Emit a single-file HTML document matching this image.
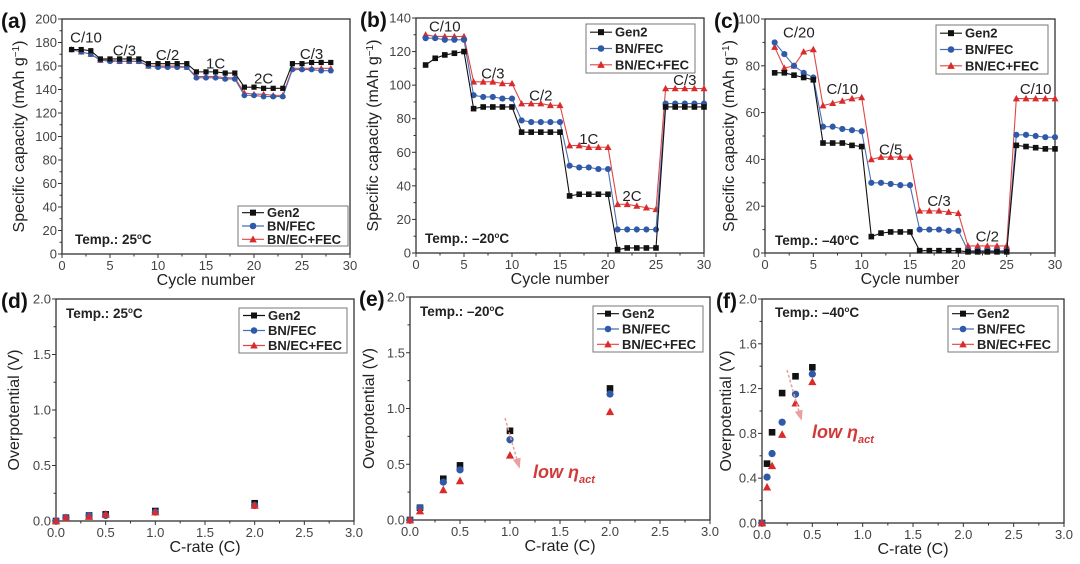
<!DOCTYPE html>
<html><head><meta charset="utf-8">
<style>
html,body{margin:0;padding:0;background:#fff;}
svg{display:block;font-family:"Liberation Sans",Arial,sans-serif;}
</style></head>
<body>
<svg id="fig" width="1080" height="564" viewBox="0 0 1080 564" xmlns="http://www.w3.org/2000/svg"></svg>
<script>
// ---------- data ----------
const cyclesA = Array.from({length:28},(_,i)=>i+1);
const cycles30 = Array.from({length:30},(_,i)=>i+1);
const aGen2 = [174,174,173,166,166,166,166,166,162,162,162,162,162,155,155,155,154,154,142,142,141,141,141,162,162,163,163,163];
const aFEC  = [174,172,170,165,164,164,164,164,160,159,159,159,159,150,150,150,149,149,135,135,134,134,134,157,157,157,156,156];
const aEC   = [174,172,170,165,165,164,164,164,160,160,160,160,159,151,151,151,150,150,137,136,136,135,135,158,158,158,158,158];
const bGen2 = [112,116,118,119,120,86,87,87,87,87,72,72,72,72,72,34,35,35,35,35,2,3,3,3,3,87,87,87,87,87];
const bFEC  = [128,128,127,127,127,94,93,93,92,92,79,78,78,78,78,52,51,51,50,50,14,14,14,14,14,89,89,89,89,89];
const bEC   = [130,129,129,129,129,102,102,102,101,101,89,89,89,88,88,64,64,63,63,63,29,29,28,27,26,98,98,98,98,98];
const cGen2 = [77,77,76,75,74,47,47,47,46,45.5,7,8.5,9,9,9,1,1,1,1,1,0.5,0.5,0.5,0.5,0.5,46,45.5,45,44.5,44.5];
const cFEC  = [90,85,80,77,75,54,54,53,52.5,52,30,30,29.5,29,29,10,10,10,9.5,9.5,1,1,1,1,1,50.5,50.5,50,49.5,49.5];
const cEC   = [88,79,80,86,87,63,64,65,66,66.5,40,41,41,41,41,18,18,18,17.5,17,3,3,3,3,3,66,66,66,66,66];
const rateDE = [0,0.1,0.333,0.5,1,2];
const dGen2 = [0,0.03,0.05,0.06,0.09,0.16];
const dFEC  = [0,0.03,0.05,0.05,0.08,0.14];
const dEC   = [0,0.03,0.04,0.06,0.08,0.14];
const eGen2 = [0,0.11,0.37,0.49,0.80,1.18];
const eFEC  = [0,0.11,0.34,0.45,0.72,1.13];
const eEC   = [0,0.08,0.27,0.35,0.58,0.97];
const rateF = [0,0.05,0.1,0.2,0.333,0.5];
const fGen2 = [0,0.53,0.81,1.16,1.31,1.39];
const fFEC  = [0,0.41,0.62,0.90,1.15,1.33];
const fEC   = [0,0.32,0.51,0.79,1.07,1.26];
const ticksCycle = [0,5,10,15,20,25,30];
const ticksA = [0,20,40,60,80,100,120,140,160,180,200];
const ticksB = [0,20,40,60,80,100,120,140];
const ticksC = [0,20,40,60,80,100];
const ticksRate = [0,0.5,1.0,1.5,2.0,2.5,3.0];
const ticksV = [0,0.5,1.0,1.5,2.0];
const ticksVF = [0,0.4,0.8,1.2,1.6,2.0];
const seriesNames = ["Gen2","BN/FEC","BN/EC+FEC"];
const labelsA = [["C/10",2.5,180],["C/3",6.5,169],["C/2",11,165],["1C",16,158],["2C",21,145],["C/3",26,166]];
const labelsB = [["C/10",3,132],["C/3",8,104],["C/2",13,91],["1C",18,65],["2C",22.5,31],["C/3",28,100]];
const labelsC = [["C/20",3.5,92],["C/10",8,68],["C/5",13,42],["C/3",18,20],["C/2",23,5],["C/10",28,68]];

const COLORS = ["#111111","#2f5aa8","#d92b2b"];
const LINECOL = ["#111111","#4a6fb5","#e04545"];
const NS = "http://www.w3.org/2000/svg";
const svg = document.getElementById('fig');
function el(tag, attrs, parent){
  const e = document.createElementNS(NS, tag);
  for (const k in attrs) e.setAttribute(k, attrs[k]);
  (parent||svg).appendChild(e);
  return e;
}
function marker(g, type, x, y, c, s){
  let m;
  if (type===0) m = el('rect',{x:x-s,y:y-s,width:2*s,height:2*s,fill:c},g);
  else if (type===1) m = el('circle',{cx:x,cy:y,r:s*1.1,fill:c},g);
  else m = el('polygon',{points:`${x},${y-s*1.3} ${x-s*1.25},${y+s} ${x+s*1.25},${y+s}`,fill:c},g);
  return m;
}
function panel(o){
  const g = el('g',{});
  
  
  const {L,T,R,B} = o;
  const sx = v => L + (v - o.xmin)/(o.xmax - o.xmin)*(R-L);
  const sy = v => B - (v - o.ymin)/(o.ymax - o.ymin)*(B-T);
  const frame = el('rect',{x:L,y:T,width:R-L,height:B-T,fill:'none',stroke:'#333',"stroke-width":1.3},g);
  
  
  o.xt.forEach((t,i)=>{
    const x = sx(t);
    el('line',{x1:x,y1:B,x2:x,y2:B+4,stroke:'#333'},g);
    if (i<o.xt.length-1){ const xm = sx((t+o.xt[i+1])/2); el('line',{x1:xm,y1:B,x2:xm,y2:B+2.5,stroke:'#333'},g);}
    const tx = el('text',{x:x,y:B+16,"font-size":13,fill:'#444',"text-anchor":'middle'},g);
    tx.textContent = o.xfmt? t.toFixed(1): t;
    
    
  });
  o.yt.forEach((t,i)=>{
    const y = sy(t);
    el('line',{x1:L,y1:y,x2:L-4,y2:y,stroke:'#333'},g);
    if (i<o.yt.length-1){ const ym = sy((t+o.yt[i+1])/2); el('line',{x1:L,y1:ym,x2:L-2.5,y2:ym,stroke:'#333'},g);}
    const ty = el('text',{x:L-5,y:y+4.5,"font-size":13,fill:'#444',"text-anchor":'end'},g);
    ty.textContent = o.yfmt? t.toFixed(1): t;
    
    
  });
  const xtl = el('text',{x:(L+R)/2,y:B+31,"font-size":16,fill:'#222',"text-anchor":'middle'},g);
  xtl.textContent = o.xlabel;
  
  
  const ytl = el('text',{x:0,y:0,"font-size":16,fill:'#222',"text-anchor":'middle',transform:`translate(${o.ytx},${(T+B)/2}) rotate(-90)`},g);
  if (o.id==='a'||o.id==='b'||o.id==='c'){
    ytl.innerHTML = 'Specific capacity (mAh g<tspan dy="-5" font-size="10">−1</tspan><tspan dy="5">)</tspan>';
  } else ytl.textContent = 'Overpotential (V)';
  
  
  const pl = el('text',{x:o.plx,y:T+9,"font-size":21,"font-weight":'bold',fill:'#111'},g);
  pl.textContent = '('+o.id+')';
  
  
  const order = o.lines ? [2,1,0] : [0,1,2];
  order.forEach(si=>{
    const ys = o.series[si];
    const sg = el('g',{},g);
    
    
    if (o.lines){
      const pts = ys.map((v,i)=>sx(o.x[i])+','+sy(v)).join(' ');
      el('polyline',{points:pts,fill:'none',stroke:LINECOL[si],"stroke-width":1.1},sg);
    }
    ys.forEach((v,i)=>{
      const m = marker(sg, si, sx(o.x[i]), sy(v), COLORS[si], o.ms);
      
      
    });
  });
  if (o.rateLabels) o.rateLabels.forEach(r=>{
    const t = el('text',{x:sx(r[1]),y:sy(r[2]),"font-size":15,fill:'#222',"text-anchor":'middle'},g);
    t.textContent = r[0];
    
    
  });
  const tp = el('text',{x:o.tempX,y:o.tempY,"font-size":13.5,"font-weight":'bold',fill:'#222'},g);
  tp.innerHTML = 'Temp.: '+o.temp+'<tspan dy="-5" font-size="8">o</tspan><tspan dy="5">C</tspan>';
  
  
  const lg = el('g',{},g);
  
  
  const [lx,ly,lw,lh] = o.leg;
  el('rect',{x:lx,y:ly,width:lw,height:lh,fill:'#fff',stroke:'#777',"stroke-width":1},lg);
  seriesNames.forEach((n,i)=>{
    const yc = ly + lh*(i+0.5)/3;
    el('line',{x1:lx+4,y1:yc,x2:lx+26,y2:yc,stroke:LINECOL[i],"stroke-width":1.2},lg);
    marker(lg, i, lx+15, yc, COLORS[i], 3);
    const t = el('text',{x:lx+29,y:yc+4.5,"font-size":13,"font-weight":'bold',fill:'#222'},lg);
    t.textContent = n;
    
    
  });
  return g;
}

panel({id:'a',L:62,T:19,R:350,B:254,xmin:0,xmax:30,ymin:0,ymax:200,xt:ticksCycle,yt:ticksA,x:cyclesA,
  series:[aGen2,aFEC,aEC],lines:true,ms:2.6,xlabel:'Cycle number',ytx:24,plx:1,rateLabels:labelsA,
  temp:'25',tempX:75,tempY:244,leg:[238,206,110,40]});
panel({id:'b',L:416,T:18,R:704,B:253,xmin:0,xmax:30,ymin:0,ymax:140,xt:ticksCycle,yt:ticksB,x:cycles30,
  series:[bGen2,bFEC,bEC],lines:true,ms:2.8,xlabel:'Cycle number',ytx:378,plx:360,rateLabels:labelsB,
  temp:'–20',tempX:425,tempY:243,leg:[586,24,109,49]});
panel({id:'c',L:765,T:19,R:1055,B:253,xmin:0,xmax:30,ymin:0,ymax:100,xt:ticksCycle,yt:ticksC,x:cycles30,
  series:[cGen2,cFEC,cEC],lines:true,ms:2.8,xlabel:'Cycle number',ytx:734,plx:714,rateLabels:labelsC,
  temp:'–40',tempX:775,tempY:245,leg:[936,25,112,49]});
panel({id:'d',L:56,T:299,R:354,B:521,xmin:0,xmax:3,ymin:0,ymax:2,xt:ticksRate,yt:ticksV,xfmt:true,yfmt:true,x:rateDE,
  series:[dGen2,dFEC,dEC],lines:false,ms:3.3,xlabel:'C-rate (C)',ytx:19,plx:1,
  temp:'25',tempX:66,tempY:318,leg:[239,308,108,45]});
panel({id:'e',L:410,T:297,R:710,B:520,xmin:0,xmax:3,ymin:0,ymax:2,xt:ticksRate,yt:ticksV,xfmt:true,yfmt:true,x:rateDE,
  series:[eGen2,eFEC,eEC],lines:false,ms:3.3,xlabel:'C-rate (C)',ytx:374,plx:359,
  temp:'–20',tempX:420,tempY:316,leg:[593,306,110,46]});
panel({id:'f',L:762,T:299,R:1064,B:523,xmin:0,xmax:3,ymin:0,ymax:2,xt:ticksRate,yt:ticksVF,xfmt:true,yfmt:true,x:rateF,
  series:[fGen2,fFEC,fEC],lines:false,ms:3.3,xlabel:'C-rate (C)',ytx:731,plx:716,
  temp:'–40',tempX:775,tempY:317,leg:[948,306,110,46]});

function annot(x1,y1,x2,y2,tx,ty,name){
  const g = el('g',{});
  
  
  el('line',{x1:x1,y1:y1,x2:x2,y2:y2,stroke:'#e8a0a0',"stroke-width":1.5,"stroke-dasharray":'3,2'},g);
  const ang = Math.atan2(y2-y1,x2-x1);
  const s=6;
  const p = [[x2+Math.cos(ang)*s,y2+Math.sin(ang)*s],[x2+Math.cos(ang+2.4)*s,y2+Math.sin(ang+2.4)*s],[x2+Math.cos(ang-2.4)*s,y2+Math.sin(ang-2.4)*s]];
  el('polygon',{points:p.map(q=>q.join(',')).join(' '),fill:'#e8a0a0'},g);
  const t = el('text',{x:tx,y:ty,"font-size":18,"font-weight":'bold',"font-style":'italic',fill:'#d23a3a'},g);
  t.innerHTML = 'low η<tspan dy="5" font-size="11">act</tspan>';
}
annot(505,418,518,463,533,478,'low-eta-annotation-e');
annot(787,370,800,415,812,438,'low-eta-annotation-f');
</script>
</body></html>
